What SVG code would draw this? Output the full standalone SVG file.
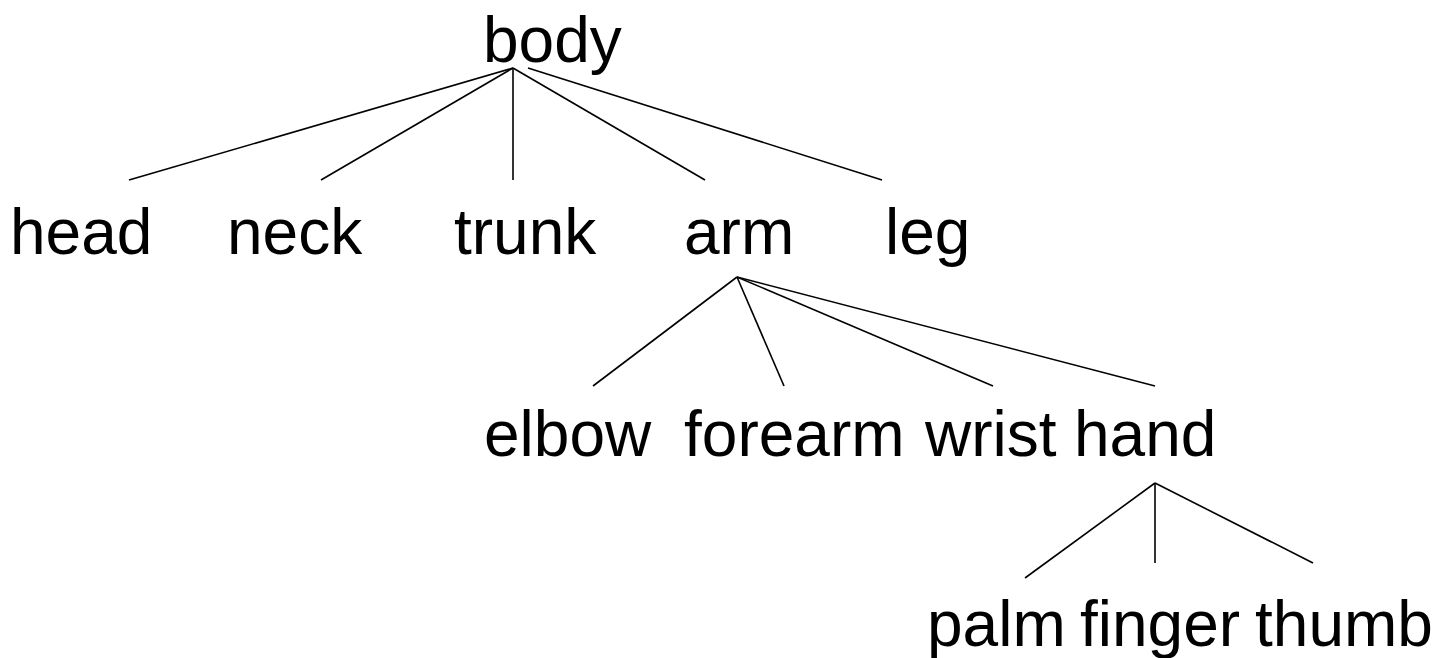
<svg xmlns="http://www.w3.org/2000/svg" width="1450" height="658" viewBox="0 0 1450 658">
<style>
text{font-family:"Liberation Sans",Arial,sans-serif;font-size:64px;fill:#000}
line{stroke:#000;stroke-width:1.6}
</style>
<rect width="1450" height="658" fill="#fff"/>
<g id="connectors">
<line x1="513" y1="68" x2="129" y2="180"/>
<line x1="513" y1="68" x2="321" y2="180"/>
<line x1="513" y1="68" x2="513" y2="180"/>
<line x1="513" y1="68" x2="705" y2="180"/>
<line x1="528" y1="68" x2="882" y2="180"/>
<line x1="737" y1="277" x2="593" y2="386"/>
<line x1="737" y1="277" x2="784" y2="386"/>
<line x1="737" y1="277" x2="993" y2="386"/>
<line x1="737" y1="277" x2="1155" y2="386"/>
<line x1="1155" y1="483" x2="1025" y2="578"/>
<line x1="1155" y1="483" x2="1155" y2="563"/>
<line x1="1155" y1="483" x2="1313" y2="563"/>
</g>
<g id="body"><text x="483" y="62">body</text></g>
<g id="head"><text x="10" y="254">head</text></g>
<g id="neck"><text x="227" y="254">neck</text></g>
<g id="trunk"><text x="454" y="254">trunk</text></g>
<g id="arm"><text x="684" y="254">arm</text></g>
<g id="leg"><text x="885" y="254">leg</text></g>
<g id="elbow"><text x="484" y="456">elbow</text></g>
<g id="forearm"><text x="684" y="456">forearm</text></g>
<g id="wrist"><text x="925" y="456">wrist</text></g>
<g id="hand"><text x="1074" y="456">hand</text></g>
<g id="palm"><text x="927" y="646">palm</text></g>
<g id="finger"><text x="1080" y="646">finger</text></g>
<g id="thumb"><text x="1255" y="646">thumb</text></g>
</svg>
